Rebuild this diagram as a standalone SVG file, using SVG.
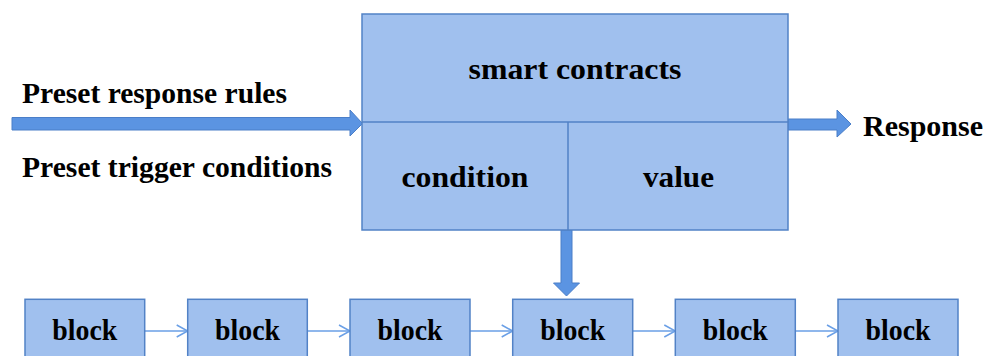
<svg xmlns="http://www.w3.org/2000/svg" width="986" height="356" viewBox="0 0 986 356" font-family="Liberation Serif, Times New Roman, DejaVu Serif, serif" font-weight="bold">
<defs>
<style>
.box{fill:#a0c0ee;stroke:#5282c6;stroke-width:1.5}
.fat{fill:#5b94e2;stroke:#4a7ec8;stroke-width:1}
.thin{fill:none;stroke:#6a9fe6;stroke-width:1.5}
.lbl{font-size:29px;fill:#000}
.mid{font-size:29px;text-anchor:middle;fill:#000}
</style>
<marker id="open" markerWidth="14" markerHeight="14" refX="12" refY="7" orient="auto" markerUnits="userSpaceOnUse">
<path d="M1,1 L12,7 L1,13" fill="none" stroke="#6a9fe6" stroke-width="1.5"/>
</marker>
</defs>
<rect width="986" height="356" fill="#fff"/>
<g id="connectors">
<path class="fat" d="M12,117.5 L350,117.5 L350,110 L362.5,123.5 L350,136 L350,130 L12,130 Z"/>
<path class="fat" d="M788,119 L837,119 L837,110 L851,124 L837,137 L837,130 L788,130 Z"/>
<path class="fat" d="M561,230 L572,230 L572,283 L579.5,283 L566.5,296 L553.5,283 L561,283 Z"/>
<line class="thin" x1="144.7" y1="331" x2="187.7" y2="331" marker-end="url(#open)"/>
<line class="thin" x1="307.3" y1="331" x2="350" y2="331" marker-end="url(#open)"/>
<line class="thin" x1="470" y1="331" x2="512.7" y2="331" marker-end="url(#open)"/>
<line class="thin" x1="632.7" y1="331" x2="675.3" y2="331" marker-end="url(#open)"/>
<line class="thin" x1="795.3" y1="331" x2="838" y2="331" marker-end="url(#open)"/>
</g>
<g id="smart-contracts">
<rect class="box" x="362" y="14" width="426" height="216"/>
<line x1="362" y1="122" x2="788" y2="122" stroke="#5282c6" stroke-width="1.5"/>
<line x1="568" y1="122" x2="568" y2="230" stroke="#5282c6" stroke-width="1.5"/>
<text class="mid" x="575" y="79" textLength="213" lengthAdjust="spacingAndGlyphs">smart contracts</text>
<text class="mid" x="465" y="187" textLength="127" lengthAdjust="spacingAndGlyphs">condition</text>
<text class="mid" x="678.5" y="187" textLength="71" lengthAdjust="spacingAndGlyphs">value</text>
</g>
<g id="labels">
<text class="lbl" x="22" y="102.5" textLength="265" lengthAdjust="spacingAndGlyphs">Preset response rules</text>
<text class="lbl" x="22" y="177" textLength="310" lengthAdjust="spacingAndGlyphs">Preset trigger conditions</text>
<text class="lbl" x="863" y="136" textLength="120" lengthAdjust="spacingAndGlyphs">Response</text>
</g>
<g id="block1"><rect class="box" x="25" y="299.3" width="119.7" height="70"/><text class="mid" x="84.8" y="340" textLength="65" lengthAdjust="spacingAndGlyphs">block</text></g>
<g id="block2"><rect class="box" x="187.7" y="299.3" width="119.6" height="70"/><text class="mid" x="247.5" y="340" textLength="65" lengthAdjust="spacingAndGlyphs">block</text></g>
<g id="block3"><rect class="box" x="350" y="299.3" width="120" height="70"/><text class="mid" x="410" y="340" textLength="65" lengthAdjust="spacingAndGlyphs">block</text></g>
<g id="block4"><rect class="box" x="512.7" y="299.3" width="120" height="70"/><text class="mid" x="572.7" y="340" textLength="65" lengthAdjust="spacingAndGlyphs">block</text></g>
<g id="block5"><rect class="box" x="675.3" y="299.3" width="120" height="70"/><text class="mid" x="735.3" y="340" textLength="65" lengthAdjust="spacingAndGlyphs">block</text></g>
<g id="block6"><rect class="box" x="838" y="299.3" width="120" height="70"/><text class="mid" x="898" y="340" textLength="65" lengthAdjust="spacingAndGlyphs">block</text></g>
</svg>
